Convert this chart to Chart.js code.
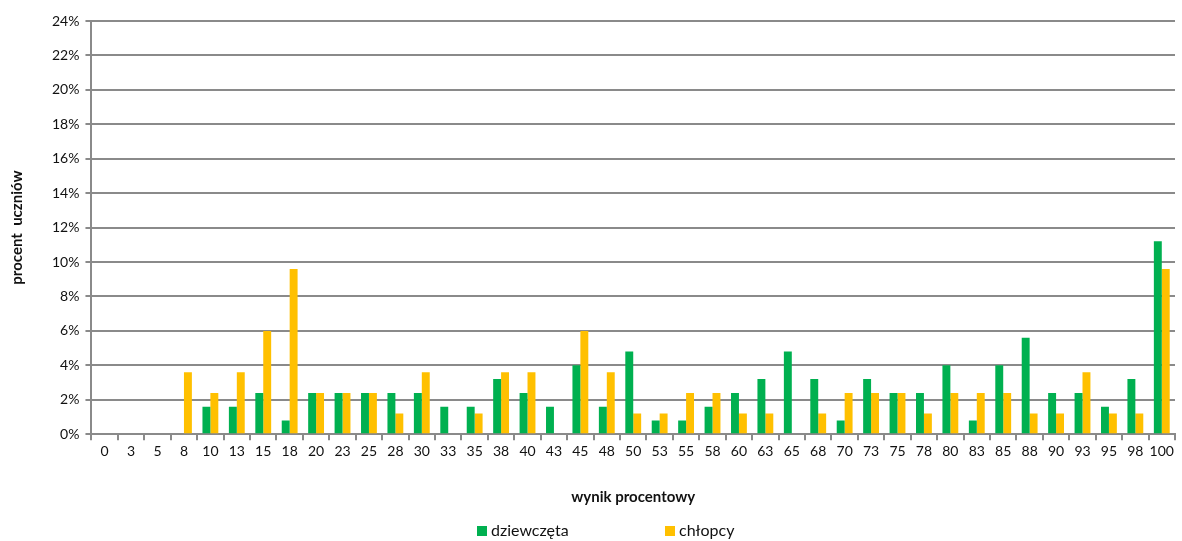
<!DOCTYPE html>
<html>
<head>
<meta charset="utf-8">
<script src="https://cdn.jsdelivr.net/npm/chart.js@4.4.1/dist/chart.umd.min.js"></script>
<style>
  html, body { margin: 0; padding: 0; background: #fff; }
  #wrap { position: relative; width: 1182px; height: 541px; }
  #legend { position: absolute; top: 520px; left: 0; width: 1182px; font-family: Lato, "Open Sans", sans-serif; font-size: 16px; color: #111; }
  .item { position: absolute; top: 0; white-space: nowrap; }
  .box { display: inline-block; width: 10px; height: 10px; margin-right: 4px; vertical-align: 0px; }
</style>
</head>
<body>
<div id="wrap">
  <canvas id="myChart" width="1182" height="541"></canvas>
  <div id="legend">
    <span class="item" style="left:477px"><span class="box" style="background:#00B050"></span>dziewczęta</span>
    <span class="item" style="left:665px"><span class="box" style="background:#FFC000"></span>chłopcy</span>
  </div>
</div>
<script>
// wynik procentowy (kategorie)
const categories = ['0','3','5','8','10','13','15','18','20','23','25','28','30','33','35','38','40','43','45','48','50',
  '53','55','58','60','63','65','68','70','73','75','78','80','83','85','88','90','93','95','98','100'];
// procent uczniów
const girls = [0,0,0,0,1.6,1.6,2.4,0.8,2.4,2.4,2.4,2.4,2.4,1.6,1.6,3.2,2.4,1.6,4.0,1.6,4.8,
  0.8,0.8,1.6,2.4,3.2,4.8,3.2,0.8,3.2,2.4,2.4,4.0,0.8,4.0,5.6,2.4,2.4,1.6,3.2,11.2];
const boys = [0,0,0,3.6,2.4,3.6,6.0,9.6,2.4,2.4,2.4,1.2,3.6,0,1.2,3.6,3.6,0,6.0,3.6,1.2,
  1.2,2.4,2.4,1.2,1.2,0,1.2,2.4,2.4,2.4,1.2,2.4,2.4,2.4,1.2,1.2,3.6,1.2,1.2,9.6];

function initChart(target){
  const font = { family: 'Lato, "Open Sans", sans-serif', size: 14 };
  const chart = new Chart(target, {
    type: 'bar',
    data: {
      labels: categories,
      datasets: [
        { label: 'dziewczęta', data: girls, backgroundColor: '#00B050', borderWidth: 0 },
        { label: 'chłopcy', data: boys, backgroundColor: '#FFC000', borderWidth: 0 }
      ]
    },
    options: {
      responsive: false,
      animation: false,
      datasets: { bar: { categoryPercentage: 0.6, barPercentage: 1.0 } },
      layout: { padding: { top: 21, right: 7, bottom: 35, left: 8 } },
      plugins: { legend: { display: false }, tooltip: { enabled: false } },
      scales: {
        x: {
          offset: true,
          border: { color: '#8a8a8a', width: 2 },
          grid: { offset: true, drawOnChartArea: false, drawTicks: true, tickLength: 6, color: '#8a8a8a', lineWidth: 2 },
          ticks: { color: '#111', font: font, maxRotation: 0, autoSkip: false, padding: 3 },
          title: { display: true, text: 'wynik procentowy', color: '#111', font: { family: font.family, size: 15, weight: 'bold' }, padding: { top: 25, bottom: 0 } }
        },
        y: {
          min: 0, max: 24,
          border: { color: '#8a8a8a', width: 2 },
          grid: { color: '#8a8a8a', lineWidth: 2, tickLength: 6 },
          ticks: { stepSize: 2, color: '#111', font: font, padding: 6, callback: (v) => v + '%' },
          title: { display: true, text: 'procent  uczniów', color: '#111', font: { family: font.family, size: 15, weight: 'bold' }, padding: { top: 0, bottom: 20 } }
        }
      }
    }
  });
  return chart;
}

document.addEventListener('DOMContentLoaded', () => initChart(document.querySelector('#myChart')));
</script>
</body>
</html>
